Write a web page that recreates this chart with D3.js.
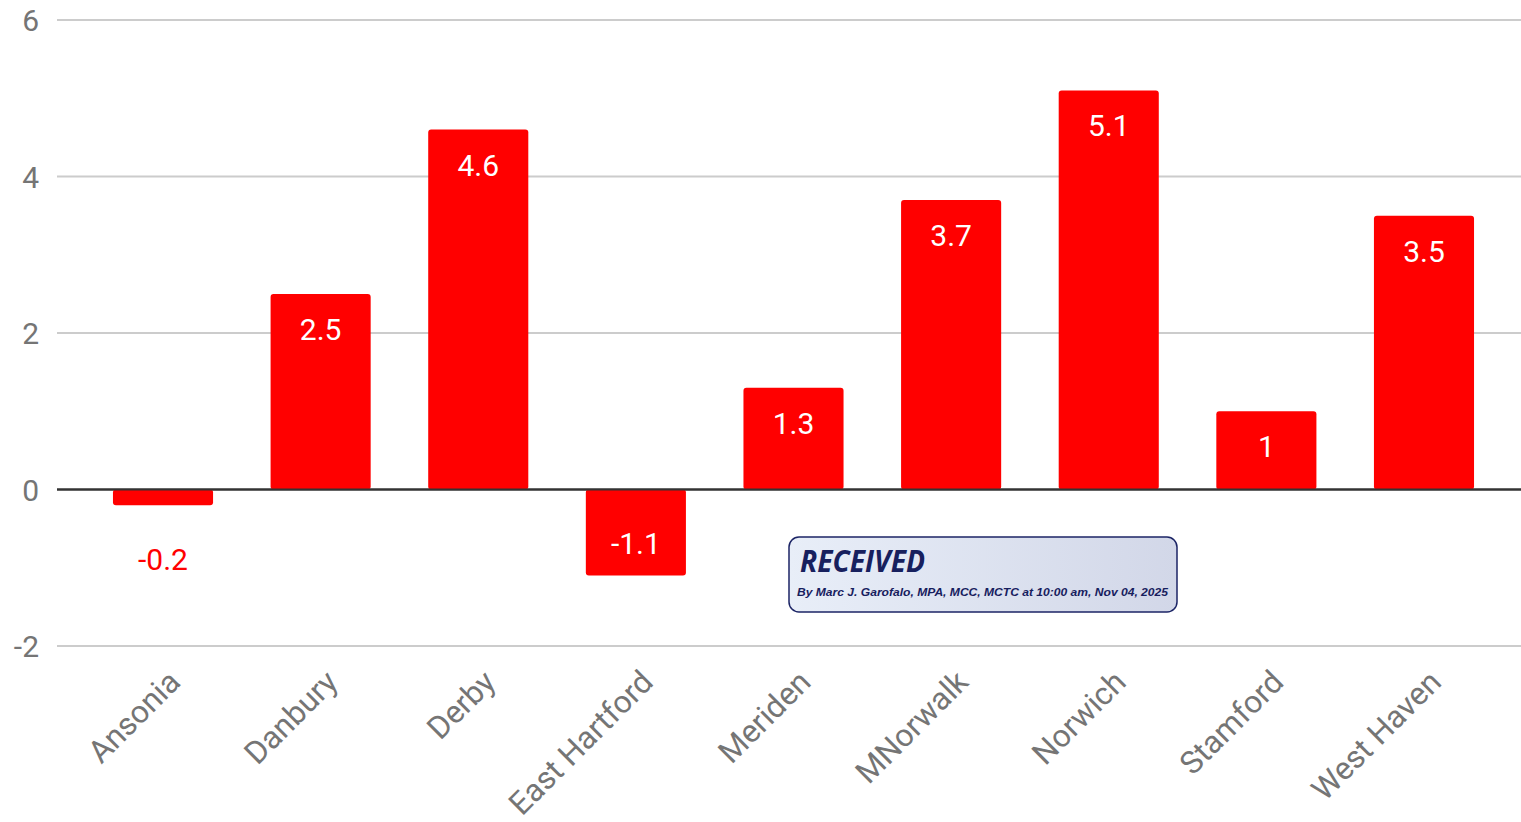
<!DOCTYPE html>
<html>
<head>
<meta charset="utf-8">
<script src="https://cdn.jsdelivr.net/npm/d3@7"></script>
<style>
  body { margin: 0; background: #fff; }
  svg { display: block; }
  .tick-label { font-family: Roboto, sans-serif; fill: #757575; }
</style>
</head>
<body>
<svg id="chart" width="1521" height="822"></svg>
<script>
var towns = ["Ansonia", "Danbury", "Derby", "East Hartford", "Meriden", "MNorwalk", "Norwich", "Stamford", "West Haven"];
var changes = [-0.2, 2.5, 4.6, -1.1, 1.3, 3.7, 5.1, 1, 3.5];
var yTicks = [-2, 0, 2, 4, 6];

var stampTitle = "RECEIVED";
var stampLine = "By Marc J. Garofalo, MPA, MCC, MCTC at 10:00 am, Nov 04, 2025";

var svg = d3.select("#chart");

var data = towns.map(function (t, i) { return { town: t, value: changes[i] }; });

// scales
var x = d3.scaleBand()
  .domain(towns)
  .range([84.2, 1502.8])
  .paddingInner(0.365)
  .paddingOuter(0.1825);

var y = d3.scaleLinear().domain([-2, 6]).range([646, 20]);

// gridlines
svg.append("g")
  .selectAll("line")
  .data(yTicks)
  .enter().append("line")
  .attr("x1", 57)
  .attr("x2", 1521)
  .attr("y1", function (d) { return y(d); })
  .attr("y2", function (d) { return y(d); })
  .attr("stroke", function (d) { return d === 0 ? "#333" : "#cccccc"; })
  .attr("stroke-width", 2);

// y labels
svg.append("g")
  .selectAll("text")
  .data(yTicks)
  .enter().append("text")
  .attr("class", "tick-label")
  .attr("x", 39)
  .attr("y", function (d) { return y(d) + 11; })
  .attr("text-anchor", "end")
  .attr("font-size", 30)
  .text(function (d) { return d; });

// bars
svg.append("g")
  .selectAll("rect")
  .data(data)
  .enter().append("rect")
  .attr("x", function (d) { return x(d.town); })
  .attr("width", x.bandwidth())
  .attr("y", function (d) { return Math.min(y(d.value), y(0)); })
  .attr("height", function (d) { return Math.abs(y(d.value) - y(0)); })
  .attr("rx", 3)
  .attr("fill", "#ff0000");

// zero line on top of bars
svg.append("line")
  .attr("x1", 57).attr("x2", 1521)
  .attr("y1", y(0)).attr("y2", y(0))
  .attr("stroke", "#333").attr("stroke-width", 2);

// value labels
svg.append("g")
  .selectAll("text")
  .data(data)
  .enter().append("text")
  .attr("x", function (d) { return x(d.town) + x.bandwidth() / 2; })
  .attr("y", function (d) {
    var h = Math.abs(y(d.value) - y(0));
    if (d.value >= 0) return y(d.value) + 46;
    if (h < 50) return y(d.value) + 65;
    return y(d.value) - 22;
  })
  .attr("text-anchor", "middle")
  .attr("font-family", "Roboto, sans-serif")
  .attr("font-size", 30)
  .attr("fill", function (d) {
    var h = Math.abs(y(d.value) - y(0));
    return (d.value < 0 && h < 50) ? "#ff0000" : "#ffffff";
  })
  .text(function (d) { return d.value; });

// x labels
svg.append("g")
  .selectAll("text")
  .data(towns)
  .enter().append("text")
  .attr("class", "tick-label")
  .attr("font-size", 31.5)
  .attr("text-anchor", "end")
  .attr("transform", function (d) {
    return "translate(" + (x(d) + x.bandwidth() / 2 + 19) + ",684) rotate(-45)";
  })
  .text(function (d) { return d; });

// received stamp
var defs = svg.append("defs");
var grad = defs.append("linearGradient").attr("id", "stampFill");
grad.append("stop").attr("offset", "0%").attr("stop-color", "#e8eef8");
grad.append("stop").attr("offset", "100%").attr("stop-color", "#d2d7e8");

var stamp = svg.append("g").attr("transform", "translate(789,537)");
stamp.append("rect")
  .attr("width", 388).attr("height", 75)
  .attr("rx", 10)
  .attr("fill", "url(#stampFill)")
  .attr("stroke", "#1c2566")
  .attr("stroke-width", 1.5);
stamp.append("text")
  .attr("x", 11).attr("y", 35)
  .attr("font-family", "'Open Sans', sans-serif")
  .attr("font-weight", "bold")
  .attr("font-style", "italic")
  .attr("font-size", 30)
  .attr("textLength", 125)
  .attr("lengthAdjust", "spacingAndGlyphs")
  .attr("fill", "#17205e")
  .text(stampTitle);
stamp.append("text")
  .attr("x", 8).attr("y", 59)
  .attr("font-family", "'Liberation Sans', Arial, sans-serif")
  .attr("font-weight", "bold")
  .attr("font-style", "italic")
  .attr("font-size", 11.5)
  .attr("textLength", 371)
  .attr("lengthAdjust", "spacingAndGlyphs")
  .attr("fill", "#17205e")
  .text(stampLine);
</script>
</body>
</html>
